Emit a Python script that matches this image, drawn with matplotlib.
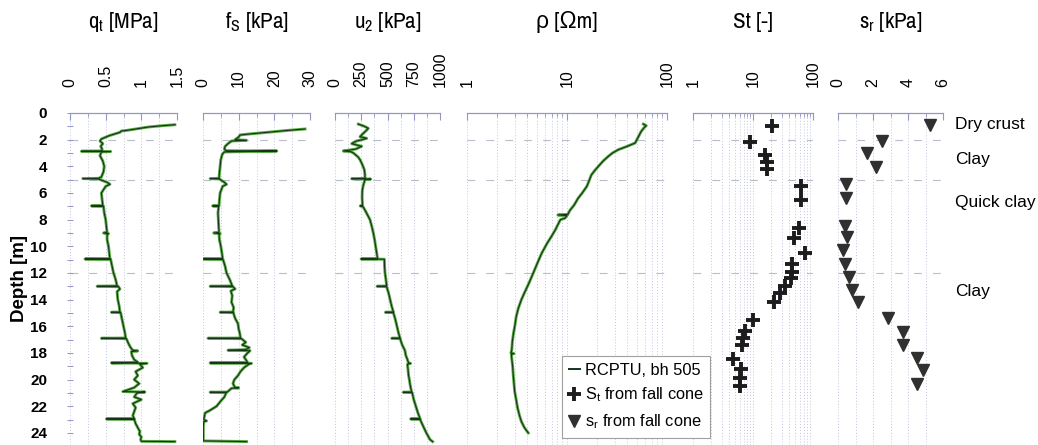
import matplotlib
matplotlib.use("Agg")
import matplotlib.pyplot as plt
from matplotlib.lines import Line2D
from matplotlib.ticker import FixedLocator, NullFormatter
from matplotlib import font_manager as fm
from matplotlib.font_manager import FontProperties

plt.rcParams['font.family'] = ['Liberation Sans', 'DejaVu Sans']
plt.rcParams['mathtext.default'] = 'regular'

# ---------------- data ----------------
qt_depth = [0.88, 0.95, 1.05, 1.2, 1.3, 1.35, 1.45, 1.7, 1.95, 2.1, 2.3, 2.5, 2.7,
            2.85, 2.87, 2.89, 2.92, 3.2, 3.6, 4.0, 4.4, 4.8, 4.9, 4.92, 4.95, 5.2, 5.35,
            5.5, 6.0, 6.5, 6.95, 6.97, 7.0, 7.5, 8.0, 8.5, 8.95, 9.0, 9.05, 9.1, 9.5,
            10.0, 10.5, 10.93, 10.95, 10.98, 11.5, 12.0, 12.5, 12.97, 13.0, 13.03, 13.2,
            13.4, 14.0, 14.5, 14.93, 14.95, 14.98, 15.5, 16.0, 16.5, 16.88, 16.9, 16.93,
            17.3, 17.6, 17.8, 17.85, 17.9, 18.2, 18.5, 18.7, 18.75, 18.78, 18.85, 19.1,
            19.4, 19.7, 20.0, 20.3, 20.6, 20.9, 20.93, 21.0, 21.3, 21.5, 21.8, 22.1,
            22.4, 22.7, 22.93, 22.95, 22.98, 23.3, 23.6, 23.9, 24.1, 24.3, 24.5, 24.63,
            24.65]
qt_value = [1.47, 1.30, 1.10, 0.92, 0.80, 0.72, 0.70, 0.55, 0.44, 0.42, 0.46, 0.43, 0.45,
            0.45, 0.16, 0.57, 0.44, 0.42, 0.46, 0.48, 0.47, 0.44, 0.40, 0.18, 0.40, 0.52, 0.56,
            0.50, 0.44, 0.45, 0.46, 0.30, 0.47, 0.48, 0.50, 0.51, 0.52, 0.47, 0.54, 0.52, 0.52,
            0.54, 0.55, 0.56, 0.21, 0.57, 0.59, 0.61, 0.64, 0.66, 0.38, 0.68, 0.70,
            0.66, 0.67, 0.69, 0.70, 0.58, 0.71, 0.73, 0.75, 0.77, 0.78, 0.44, 0.79,
            0.82, 0.85, 0.88, 0.95, 0.86, 0.87, 0.90, 0.95, 0.58, 1.08, 0.98, 1.02,
            0.92, 0.95, 0.90, 0.97, 0.90, 0.74, 1.05, 0.94, 0.90, 1.00, 0.88, 0.92,
            0.90, 0.88, 0.90, 0.51, 0.90, 0.92, 0.95, 0.98, 0.97, 1.00, 0.99, 1.00,
            1.47]

fs_depth = [1.2, 1.3, 1.45, 1.6, 1.65, 1.8, 2.0, 2.05, 2.1, 2.3, 2.5, 2.7, 2.83, 2.85,
            2.88, 2.92, 3.1, 3.5, 4.0, 4.5, 4.9, 4.92, 4.95, 5.2, 5.35, 5.5, 6.0, 6.5,
            6.95, 6.97, 7.0, 7.5, 8.0, 8.5, 8.95, 9.0, 9.05, 9.1, 9.5, 10.0, 10.5, 10.93,
            10.95, 10.98, 11.5, 12.0, 12.5, 12.97, 13.0, 13.03, 13.2, 13.35, 13.7, 14.2,
            14.6, 14.93, 14.95, 14.98, 15.4, 15.8, 16.2, 16.5, 16.88, 16.9, 16.93, 17.2,
            17.4, 17.6, 17.75, 17.8, 17.83, 18.0, 18.3, 18.5, 18.72, 18.75, 18.78, 18.85,
            19.1, 19.4, 19.7, 20.0, 20.3, 20.6, 20.62, 20.65, 20.93, 20.95, 20.98, 21.3,
            21.6, 22.0, 22.3, 22.5, 23.0, 23.1, 23.15, 23.5, 24.0, 24.6, 24.65]
fs_value = [28.6, 24.0, 18.0, 12.0, 10.4, 10.0, 9.0, 12.2, 8.0, 7.0, 6.2, 6.0, 6.5, 20.7,
            14.0, 6.0, 5.4, 5.0, 4.8, 4.6, 4.5, 2.0, 4.6, 6.0, 6.6, 5.5, 4.8, 4.6,
            4.5, 2.7, 4.4, 4.2, 4.3, 4.4, 4.5, 3.0, 4.8, 4.5, 4.6, 5.0, 5.3, 5.5,
            0.1, 5.6, 6.2, 6.6, 7.5, 8.2, 2.0, 8.4, 9.0, 7.8, 8.2, 8.0,
            8.6, 8.4, 4.8, 8.5, 9.0, 9.8, 10.0, 10.3, 10.5, 1.4, 10.8, 12.0,
            11.0, 13.0, 12.0, 7.0, 13.2, 12.5, 11.5, 12.0, 12.5, 2.0, 13.6, 12.8,
            11.5, 10.5, 9.8, 8.8, 8.4, 9.0, 10.0, 8.0, 6.8, 2.0, 6.5, 6.0,
            5.0, 3.8, 2.0, 0.6, 0.2, 1.0, 0.2, 0.1, 0.1, 0.1, 12.2]

u2_depth = [0.83, 1.0, 1.15, 1.3, 1.4, 1.6, 1.78, 1.9, 2.0, 2.1, 2.2, 2.3, 2.45, 2.5,
            2.7, 2.85, 2.9, 3.0, 3.3, 3.5, 3.9, 4.25, 4.6, 4.9, 4.93, 4.96, 5.0, 5.4,
            5.8, 6.3, 6.95, 6.97, 7.0, 7.5, 8.0, 8.5, 9.0, 9.5, 10.0, 10.5, 10.93,
            10.95, 10.97, 11.5, 12.0, 12.5, 12.97, 13.0, 13.03, 13.5, 14.0, 14.5, 14.93,
            14.95, 14.98, 15.5, 16.0, 16.5, 16.88, 16.9, 16.93, 17.4, 17.8, 18.2, 18.5,
            18.75, 18.78, 18.85, 19.2, 19.65, 20.0, 20.5, 20.93, 20.95, 20.98, 21.5,
            22.0, 22.5, 22.93, 22.95, 22.98, 23.5, 24.0, 24.5, 24.65]
u2_value = [222, 280, 317, 300, 286, 260, 238, 302, 260, 206, 180, 159, 230, 254,
            200, 79, 150, 175, 220, 238, 262, 279, 285, 286, 159, 340, 286, 270,
            260, 258, 262, 240, 265, 300, 333, 350, 365, 377, 387, 397, 405,
            248, 470, 472, 476, 485, 492, 400, 492, 510, 525, 540, 556,
            480, 556, 575, 590, 605, 619, 540, 620, 640, 665, 675, 690,
            700, 720, 690, 695, 700, 708, 718, 730, 650, 735, 750,
            770, 790, 810, 720, 810, 840, 870, 905, 930]

rho_depth = [0.83, 0.95, 1.1, 1.4, 1.75, 2.0, 2.25, 2.5, 2.75, 3.0, 3.25, 3.6, 4.0, 4.3,
             4.65, 5.0, 5.5, 6.0, 6.4, 6.9, 7.3, 7.6, 7.65, 7.7, 7.9, 8.0, 8.3, 8.8,
             9.25, 9.8, 10.5, 11.2, 12.0, 12.7, 13.4, 14.0, 14.65, 15.3, 15.9, 16.5,
             17.15, 17.8, 18.0, 18.05, 18.1, 18.4, 19.0, 19.65, 20.3, 20.9, 21.5,
             22.15, 22.7, 23.15, 23.6, 24.0]
rho_value = [58, 62, 59, 55, 52, 50, 48, 40, 32.6, 28.5, 25.9, 23, 20.6, 19,
             17.5, 16.8, 15.8, 14.2, 12.9, 11.8, 10.7, 10.2, 8.1, 10.0, 9.5, 8.6, 8.2, 7.6,
             7.0, 6.3, 5.6, 5.1, 4.6, 4.2, 3.8, 3.5, 3.26, 3.1, 3.02, 2.92,
             2.84, 2.8, 2.75, 2.95, 2.78, 2.8, 2.86, 2.9, 2.95, 3.0, 3.1,
             3.21, 3.35, 3.5, 3.75, 4.1]

st_depth = [1.0, 2.15, 3.15, 3.65, 4.2, 5.5, 6.5, 8.65, 9.4, 10.5, 11.3, 11.9, 12.4,
            13.0, 13.5, 14.15, 15.5, 16.35, 16.9, 17.4, 18.45, 19.2, 19.85, 20.45]
st_value = [20.5, 8.9, 15.8, 17.3, 17.3, 62, 62, 59, 48, 73, 44, 44, 43,
            34, 28, 22.4, 10.1, 7.4, 6.9, 6.5, 4.7, 6.3, 6.1, 6.1]

sr_depth = [0.9, 2.07, 2.97, 4.07, 5.33, 6.4, 8.5, 9.3, 10.3, 11.3, 12.3, 13.3, 14.15,
            15.4, 16.4, 17.4, 18.4, 19.25, 20.3]
sr_value = [5.26, 2.53, 1.64, 2.17, 0.44, 0.44, 0.4, 0.5, 0.3, 0.4, 0.65, 0.78, 1.16,
            2.88, 3.73, 3.73, 4.5, 4.84, 4.5]

titles = ['q$_t$ [MPa]', 'f$_S$ [kPa]', 'u$_2$ [kPa]', 'ρ [Ωm]', 'St [-]', 's$_r$ [kPa]']
layer_names = ['Dry crust', 'Clay', 'Quick clay', 'Clay']
layer_label_depth = [0.85, 3.5, 6.75, 13.4]
layer_bounds = [2, 5, 12]
depth_ticks = list(range(0, 25, 2))

# ---------------- fonts ----------------
narrow_name = None
for f in fm.fontManager.ttflist:
    if 'Narrow' in f.name and f.style == 'normal':
        narrow_name = f.name
        break
if narrow_name:
    title_fp = FontProperties(family=[narrow_name, 'Liberation Sans', 'DejaVu Sans'],
                              size=16.5)
else:
    title_fp = FontProperties(family=['Liberation Sans', 'DejaVu Sans'], size=14)

# ---------------- figure ----------------
W, H = 1038, 445
fig = plt.figure(figsize=(W / 100, H / 100), dpi=100)
top_px = 113
ymax = (H - top_px) / 13.33

panels = [(70, 177), (203, 310), (335, 440), (467, 667), (693, 813), (838, 943)]
axes = []
for (l, r) in panels:
    ax = fig.add_axes([l / W, 0, (r - l) / W, (H - top_px) / H])
    axes.append(ax)

GRID = '#c3c6dc'
SPINE = '#9496c8'
GREEN = '#5aaa46'
DARK = '#17331b'

def style(ax, xlim, major, minor, labels, log=False):
    if log:
        ax.set_xscale('log')
    ax.set_xlim(*xlim)
    ax.set_ylim(ymax, 0)
    ax.xaxis.tick_top()
    ax.xaxis.set_major_locator(FixedLocator(major))
    ax.xaxis.set_minor_locator(FixedLocator(minor))
    ax.set_xticklabels(labels, rotation=90)
    ax.xaxis.set_minor_formatter(NullFormatter())
    ax.tick_params(axis='x', which='major', direction='in', length=5, width=0.8,
                   color=SPINE, pad=19, labelsize=11.5, top=True, bottom=False)
    ax.tick_params(axis='x', which='minor', direction='in', length=3, width=0.6,
                   color=SPINE, top=True, bottom=False)
    for s in ['left', 'right', 'bottom']:
        ax.spines[s].set_visible(False)
    ax.spines['top'].set_color(SPINE)
    ax.spines['top'].set_linewidth(0.9)
    for x in list(major) + list(minor):
        if xlim[0] <= x <= xlim[1]:
            ax.axvline(x, color=GRID, lw=0.7, ls=(0, (1, 2)), zorder=0)
    for d in layer_bounds:
        ax.axhline(d, color='#b9bccb', lw=0.8, ls=(0, (7, 10)), zorder=0)
    ax.set_yticks([])
    ax.patch.set_alpha(0)

style(axes[0], (0, 1.5), [0, 0.5, 1, 1.5], [0.25, 0.75, 1.25], ['0', '0.5', '1', '1.5'])
style(axes[1], (0, 30), [0, 10, 20, 30], [5, 15, 25], ['0', '10', '20', '30'])
style(axes[2], (0, 1000), [0, 250, 500, 750, 1000], [125, 375, 625, 875],
      ['0', '250', '500', '750', '1000'])
log_minor = [m * 10 ** e for e in (0, 1) for m in range(2, 10)]
style(axes[3], (1, 100), [1, 10, 100], log_minor, ['1', '10', '100'], log=True)
style(axes[4], (1, 100), [1, 10, 100], log_minor, ['1', '10', '100'], log=True)
style(axes[5], (0, 6), [0, 2, 4, 6], [1, 3, 5], ['0', '2', '4', '6'])

# depth axis on first panel
ax0 = axes[0]
ax0.set_yticks(depth_ticks)
ax0.set_yticks(list(range(1, 25, 2)), minor=True)
ax0.set_yticklabels([str(d) for d in depth_ticks], fontweight='bold', fontsize=11)
ax0.tick_params(axis='y', which='both', direction='inout', length=5, width=0.7,
                color=SPINE, pad=14, left=True)
ax0.yaxis.set_minor_formatter(NullFormatter())
fig.text(19.5 / W, 1 - 279 / H, 'Depth [m]', rotation=90, ha='center', va='center',
         fontsize=13.5, fontweight='bold')

# profiles
def profile(ax, x, y):
    ax.plot(x, y, color=GREEN, lw=2.1, solid_joinstyle='round', zorder=3)
    ax.plot(x, y, color=DARK, lw=0.8, zorder=4)

profile(axes[0], qt_value, qt_depth)
profile(axes[1], fs_value, fs_depth)
profile(axes[2], u2_value, u2_depth)
profile(axes[3], rho_value, rho_depth)

axes[4].plot(st_value, st_depth, ls='none', marker='+', ms=10.5, mew=2.8, color='#1c1c1c',
             zorder=5, clip_on=False)
axes[5].plot(sr_value, sr_depth, ls='none', marker='v', ms=8.5, color='#303030',
             zorder=5, clip_on=False)

# titles
for (l, r), t in zip(panels, titles):
    fig.text((l + r) / 2 / W, 1 - 22 / H, t, ha='center', va='center',
             fontproperties=title_fp)

# layer labels
for name, d in zip(layer_names, layer_label_depth):
    y_px = top_px + d * 13.33
    fig.text(955 / W, 1 - y_px / H, name, ha='left', va='center', fontsize=12.5)

# legend
handles = [Line2D([], [], color=DARK, lw=1.4),
           Line2D([], [], ls='none', marker='+', ms=10.5, mew=2.8, color='#1c1c1c'),
           Line2D([], [], ls='none', marker='v', ms=8.5, color='#303030')]
labels = ['RCPTU, bh 505', 'S$_t$ from fall cone', 's$_r$ from fall cone']
leg = fig.legend(handles, labels, loc='upper left',
                 bbox_to_anchor=(562 / W, 1 - 356 / H), bbox_transform=fig.transFigure,
                 fontsize=11.8, frameon=True, fancybox=False, framealpha=1,
                 edgecolor='#a0a0a0', borderpad=0.4, labelspacing=0.5,
                 handlelength=0.7, handletextpad=0.3, borderaxespad=0)
leg.get_frame().set_linewidth(0.8)
leg.set_zorder(10)

fig.savefig('out.png', dpi=100)
